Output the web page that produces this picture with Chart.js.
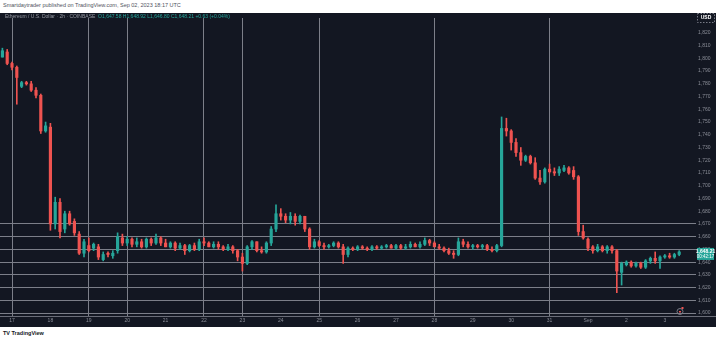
<!DOCTYPE html>
<html>
<head>
<meta charset="utf-8">
<script src="https://cdn.jsdelivr.net/npm/chart.js@4.4.0/dist/chart.umd.min.js"></script>
<style>
body{margin:0;background:#fff;width:720px;height:341px;overflow:hidden;position:relative;font-family:"Liberation Sans",Arial,sans-serif}
#title{position:absolute;left:3px;top:2px;font-size:5.5px;color:#50535e;white-space:nowrap}
#panel{position:absolute;left:0;top:13px;width:716px;height:314px;background:#131722}
#brand{position:absolute;left:3px;top:330px;font-size:5.5px;color:#131722;font-weight:bold;white-space:nowrap}
</style>
</head>
<body>
<div id="title">Smartdaytrader published on TradingView.com, Sep 02, 2023 18:17 UTC</div>
<div id="panel"><canvas id="graph1" width="716" height="314"></canvas></div>
<div id="brand">TV TradingView</div>
<script>
// 3h candles, Aug 16 18:00 -> Sep 2
const opens  = [1801,1805,1796,1793,1778,1781,1780,1775,1771,1743,1746,1670,1687,1666,1678,1672,1662,1647,1653,1651,1652,1642,1647,1645,1649,
  1659,1655,1658,1654,1656,1652,1658,1655,1659,1655,1652,1655,1651,1653,1649,1653,1650,1656,1655,1652,1654,1652,1650,1652,1649,1644,1639,1652,1656,1649,
  1648,1655,1666,1678,1676,1673,1676,1672,1676,1666,1652,1656,1653,1652,1653,1655,1652,1646,1651,1650,1652,1651,1650,1652,1651,1652,1653,1651,1653,1651,
  1652,1654,1652,1654,1657,1655,1652,1651,1649,1647,1646,1656,1654,1652,1653,1652,1653,1650,1649,1653,1745,1743,1734,1726,1720,1723,1718,1706,1703,1713,
  1711,1710,1712,1714,1712,1707,1664,1658,1652,1649,1652,1649,1652,1649,1632,1638,1640,1637,1639,1636,1641,1643,1641,1644,1645,1644,1646];
const highs  = [1808,1807,1797,1794,1782,1782,1782,1777,1772,1750,1749,1691,1690,1680,1680,1674,1664,1658,1659,1655,1654,1648,1648,1649,1663,
  1662,1660,1659,1659,1658,1659,1659,1662,1660,1658,1656,1656,1655,1654,1654,1655,1658,1659,1656,1656,1656,1653,1654,1653,1650,1647,1653,1657,1656,1652,
  1656,1668,1685,1682,1678,1679,1678,1677,1676,1667,1658,1657,1655,1654,1656,1656,1654,1652,1652,1653,1653,1652,1653,1653,1653,1654,1654,1654,1654,1654,
  1656,1655,1656,1659,1658,1656,1654,1652,1651,1649,1659,1658,1656,1654,1654,1654,1654,1652,1654,1754,1753,1744,1737,1730,1724,1724,1722,1712,1714,1717,
  1714,1715,1716,1715,1715,1708,1669,1659,1653,1654,1653,1653,1653,1650,1640,1641,1641,1640,1640,1642,1644,1648,1645,1646,1647,1647,1649];
const lows   = [1801,1795,1791,1764,1777,1779,1774,1769,1741,1742,1665,1666,1659,1663,1669,1661,1646,1644,1648,1649,1642,1641,1644,1643,1647,
  1653,1653,1652,1652,1651,1651,1653,1654,1653,1652,1651,1649,1650,1646,1648,1649,1649,1653,1652,1651,1650,1649,1649,1647,1641,1633,1638,1650,1648,1647,
  1647,1653,1664,1673,1671,1670,1669,1670,1664,1650,1651,1652,1650,1651,1652,1651,1639,1644,1649,1649,1650,1649,1649,1650,1650,1651,1651,1650,1650,1650,
  1651,1652,1651,1653,1653,1652,1650,1648,1646,1643,1645,1652,1651,1650,1651,1650,1649,1648,1648,1652,1739,1728,1723,1716,1719,1717,1705,1701,1702,1710,
  1708,1708,1711,1709,1705,1661,1658,1649,1647,1648,1648,1647,1647,1616,1622,1637,1636,1636,1635,1635,1639,1639,1635,1643,1643,1643,1645];
const closes = [1806,1796,1793,1785,1781,1780,1775,1771,1743,1747,1670,1687,1664,1678,1670,1663,1647,1656,1649,1654,1644,1646,1646,1647,1660,
  1655,1658,1654,1656,1652,1658,1655,1659,1655,1652,1655,1651,1653,1649,1653,1650,1656,1655,1652,1654,1652,1650,1652,1649,1644,1639,1652,1656,1649,1648,
  1655,1666,1678,1676,1673,1676,1672,1676,1666,1652,1656,1653,1652,1653,1655,1652,1646,1651,1650,1652,1651,1650,1652,1651,1652,1653,1651,1653,1651,1652,
  1654,1652,1654,1657,1655,1652,1651,1649,1647,1646,1656,1654,1652,1653,1652,1653,1650,1649,1653,1745,1743,1734,1726,1720,1723,1718,1706,1703,1713,1711,
  1710,1713,1714,1710,1707,1664,1659,1651,1649,1652,1649,1652,1649,1633,1639,1640,1637,1639,1636,1641,1643,1641,1644,1645,1644,1646,1648];
const candleHours = opens.map((o, i) => -6 + 3 * i);

const dayLabels = ['17','18','19','20','21','22','23','24','25','26','27','28','29','30','31','Sep','2','3'];
const markedDays = ['17','19','20','22','23','25','28','31'];
const priceTicks = [1600,1610,1620,1630,1640,1650,1660,1670,1680,1690,1700,1710,1720,1730,1740,1750,1760,1770,1780,1790,1800,1810,1820];
const lineTop = 1670;

const up = '#26a69a';
const down = '#ef5350';
const lineCol = '#7c7f89';
const colours = opens.map((o, i) => closes[i] >= o ? up : down);

const decor = {
    id: 'decor',
    afterDraw(chart) {
        const c = chart.ctx;
        const a = chart.chartArea;
        c.save();
        // axis separator
        c.strokeStyle = '#6a6d78';
        c.lineWidth = 1;
        c.beginPath();
        c.moveTo(0, a.bottom + 0.5);
        c.lineTo(chart.width, a.bottom + 0.5);
        c.stroke();

        // header
        c.font = '5px "Liberation Sans", Arial';
        c.textBaseline = 'middle';
        c.fillStyle = '#9598a1';
        const head = 'Ethereum / U.S. Dollar · 2h · COINBASE  ';
        c.fillText(head, 5, 4);
        c.fillStyle = up;
        c.fillText('O1,647.58 H1,648.92 L1,646.80 C1,648.21 +0.63 (+0.04%)', 5 + c.measureText(head).width, 4);

        // currency box
        c.setLineDash([1.5, 1.5]);
        c.strokeStyle = '#787b86';
        c.strokeRect(697.5, 0.5, 17, 9);
        c.setLineDash([]);
        c.fillStyle = '#ffffff';
        c.font = 'bold 5px "Liberation Sans", Arial';
        c.textAlign = 'center';
        c.fillText('USD', 706, 5);

        // last price label
        const last = closes.length - 1;
        const py = chart.scales.y.getPixelForValue(closes[last]);
        c.fillStyle = up;
        c.fillRect(697, py - 4, 17, 12);
        c.fillStyle = '#ffffff';
        c.font = 'bold 5px "Liberation Sans", Arial';
        c.fillText('1,648.21', 705.5, py - 0.5);
        c.font = '4.5px "Liberation Sans", Arial';
        c.fillText('00:42:17', 705.5, py + 5);

        // small icon near bottom right
        c.strokeStyle = '#787b86';
        c.beginPath();
        c.arc(680, a.bottom - 4.5, 3, 0, Math.PI * 2);
        c.stroke();
        c.fillStyle = down;
        c.fillRect(681.5, a.bottom - 9, 2, 2);
        c.fillRect(679, a.bottom - 5, 2, 1.5);
        c.restore();
    }
};

const ctx = document.getElementById('graph1');
new Chart(ctx, {
    type: 'bar',
    data: {
        datasets: [
            {
                label: 'bodies',
                data: opens.map((o, i) => ({x: candleHours[i], y: [o, closes[i]]})),
                backgroundColor: colours,
                barThickness: 2.5,
                minBarLength: 1,
                grouped: false
            },
            {
                label: 'wicks',
                data: lows.map((l, i) => ({x: candleHours[i], y: [l, highs[i]]})),
                backgroundColor: colours,
                barThickness: 1,
                grouped: false
            }
        ]
    },
    options: {
        responsive: false,
        animation: false,
        devicePixelRatio: 1,
        layout: {padding: 0},
        plugins: {legend: {display: false}, tooltip: {enabled: false}},
        scales: {
            x: {
                type: 'linear',
                offset: false,
                min: -7.5,
                max: 427.5,
                afterBuildTicks: s => { s.ticks = dayLabels.map((d, i) => ({value: 24 * i})); },
                afterFit: s => { s.height = 11; },
                ticks: {
                    autoSkip: false,
                    maxRotation: 0,
                    padding: 2,
                    color: '#8b8e98',
                    font: {size: 5, family: 'Liberation Sans'},
                    callback: (v, i) => dayLabels[i]
                },
                grid: {
                    offset: false,
                    drawTicks: false,
                    color: c => (c.tick && markedDays.includes(dayLabels[c.index])) ? lineCol : 'transparent'
                },
                border: {display: false}
            },
            y: {
                position: 'right',
                min: 1597.7,
                max: 1831.7,
                afterBuildTicks: s => { s.ticks = priceTicks.map(v => ({value: v})); },
                afterFit: s => { s.width = 20; },
                ticks: {
                    padding: 2,
                    color: '#8b8e98',
                    font: {size: 5, family: 'Liberation Sans'},
                    callback: v => v.toLocaleString('en-US')
                },
                grid: {
                    drawTicks: false,
                    color: c => (c.tick && c.tick.value <= lineTop) ? lineCol : 'transparent'
                },
                border: {display: false}
            }
        }
    },
    plugins: [decor]
});
</script>
</body>
</html>
